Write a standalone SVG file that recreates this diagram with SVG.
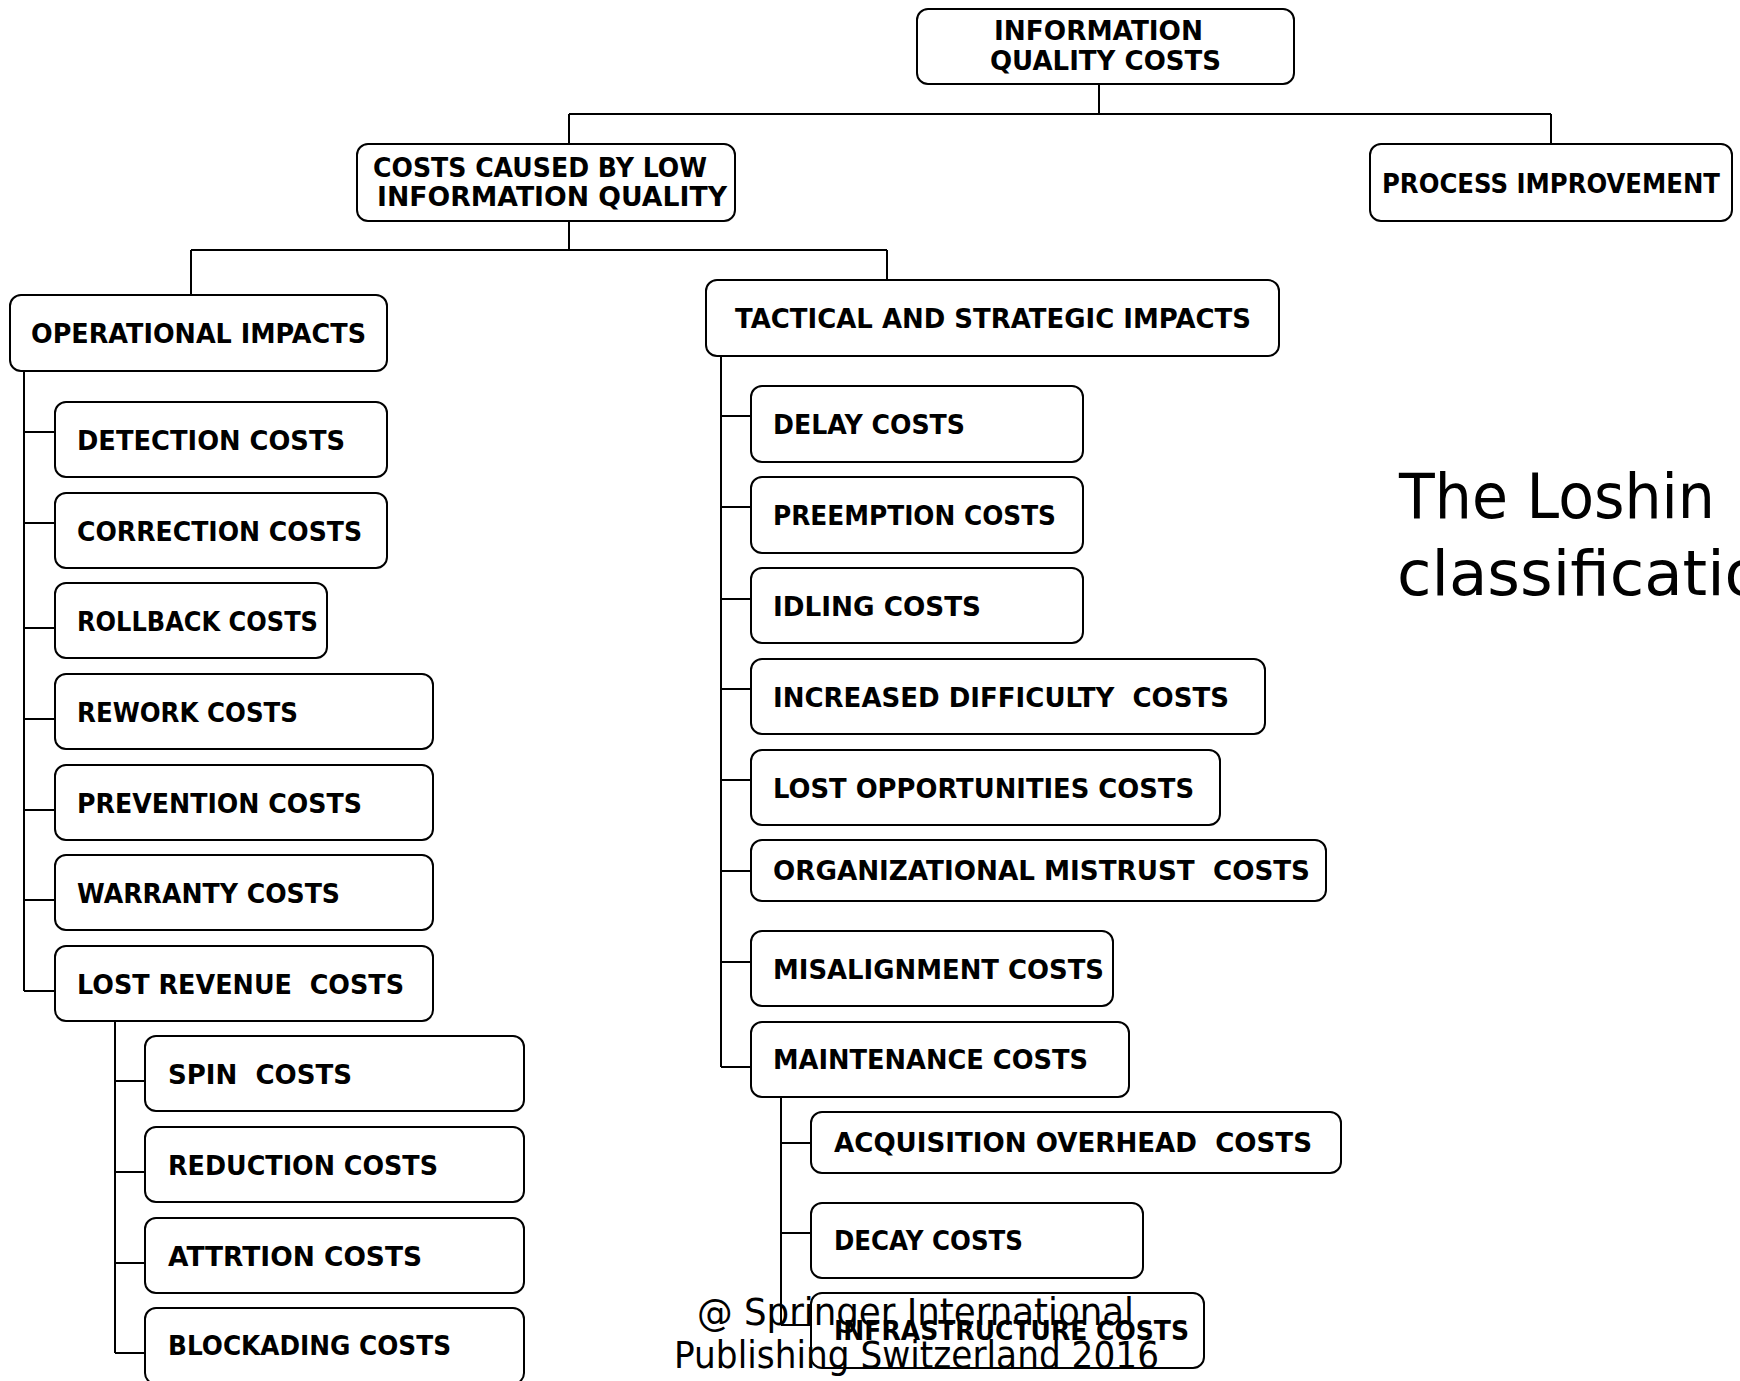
<svg xmlns="http://www.w3.org/2000/svg" width="1740" height="1381" viewBox="0 0 1740 1381">
  <style>
    .box { fill: #ffffff; stroke: #000000; stroke-width: 2; }
    .lbl { font-family: "DejaVu Sans", "Liberation Sans", sans-serif; font-weight: bold; font-size: 26px; fill: #000000; white-space: pre; }
    .wire { fill: none; stroke: #000000; stroke-width: 2; }
    .note { font-family: "DejaVu Sans", "Liberation Sans", sans-serif; font-weight: normal; fill: #000000; }
  </style>
  <rect x="0" y="0" width="1740" height="1381" fill="#ffffff"/>

  <!-- tree connectors -->
  <g id="connectors" class="wire">
    <path d="M1099 84 V114 M569 114 H1551 M569 114 V144 M1551 114 V144"/>
    <path d="M569 221 V250 M191 250 H887 M191 250 V295 M887 250 V280"/>
    <!-- operational impacts -->
    <path d="M24 371 V991 M24 432 H55 M24 523 H55 M24 628 H55 M24 719 H55 M24 810 H55 M24 900 H55 M24 991 H55"/>
    <!-- lost revenue -->
    <path d="M115 1021 V1353 M115 1081 H145 M115 1172 H145 M115 1263 H145 M115 1353 H145"/>
    <!-- tactical and strategic impacts -->
    <path d="M721 356 V1067 M721 416 H751 M721 507 H751 M721 599 H751 M721 689 H751 M721 780 H751 M721 871 H751 M721 962 H751 M721 1067 H751"/>
    <!-- maintenance -->
    <path d="M781 1097 V1325 M781 1143 H811 M781 1233 H811 M781 1325 H811"/>
  </g>

  <g id="n-root">
    <rect class="box" x="917" y="9" width="377" height="75" rx="11"/>
    <text class="lbl" x="994" y="40" textLength="209" lengthAdjust="spacingAndGlyphs">INFORMATION</text>
    <text class="lbl" x="990" y="70" textLength="231" lengthAdjust="spacingAndGlyphs">QUALITY COSTS</text>
  </g>
  <g id="n-process">
    <rect class="box" x="1370" y="144" width="362" height="77" rx="11"/>
    <text class="lbl" x="1382" y="193" textLength="338" lengthAdjust="spacingAndGlyphs">PROCESS IMPROVEMENT</text>
  </g>
  <g id="n-low-quality">
    <rect class="box" x="357" y="144" width="378" height="77" rx="11"/>
    <text class="lbl" x="373" y="177" textLength="334" lengthAdjust="spacingAndGlyphs">COSTS CAUSED BY LOW</text>
    <text class="lbl" x="377" y="206" textLength="350" lengthAdjust="spacingAndGlyphs">INFORMATION QUALITY</text>
  </g>
  <g id="n-operational">
    <rect class="box" x="10" y="295" width="377" height="76" rx="11"/>
    <text class="lbl" x="31" y="343" textLength="335" lengthAdjust="spacingAndGlyphs">OPERATIONAL IMPACTS</text>
  </g>
  <g id="n-tactical">
    <rect class="box" x="706" y="280" width="573" height="76" rx="11"/>
    <text class="lbl" x="735" y="328" textLength="516" lengthAdjust="spacingAndGlyphs">TACTICAL AND STRATEGIC IMPACTS</text>
  </g>

  <!-- operational branch -->
  <g id="n-detection">
    <rect class="box" x="55" y="402" width="332" height="75" rx="11"/>
    <text class="lbl" x="77" y="450" textLength="268" lengthAdjust="spacingAndGlyphs">DETECTION COSTS</text>
  </g>
  <g id="n-correction">
    <rect class="box" x="55" y="493" width="332" height="75" rx="11"/>
    <text class="lbl" x="77" y="541" textLength="285" lengthAdjust="spacingAndGlyphs">CORRECTION COSTS</text>
  </g>
  <g id="n-rollback">
    <rect class="box" x="55" y="583" width="272" height="75" rx="11"/>
    <text class="lbl" x="77" y="631" textLength="241" lengthAdjust="spacingAndGlyphs">ROLLBACK COSTS</text>
  </g>
  <g id="n-rework">
    <rect class="box" x="55" y="674" width="378" height="75" rx="11"/>
    <text class="lbl" x="77" y="722" textLength="221" lengthAdjust="spacingAndGlyphs">REWORK COSTS</text>
  </g>
  <g id="n-prevention">
    <rect class="box" x="55" y="765" width="378" height="75" rx="11"/>
    <text class="lbl" x="77" y="813" textLength="285" lengthAdjust="spacingAndGlyphs">PREVENTION COSTS</text>
  </g>
  <g id="n-warranty">
    <rect class="box" x="55" y="855" width="378" height="75" rx="11"/>
    <text class="lbl" x="77" y="903" textLength="263" lengthAdjust="spacingAndGlyphs">WARRANTY COSTS</text>
  </g>
  <g id="n-lost-revenue">
    <rect class="box" x="55" y="946" width="378" height="75" rx="11"/>
    <text class="lbl" x="77" y="994" textLength="327" lengthAdjust="spacingAndGlyphs">LOST REVENUE  COSTS</text>
  </g>
  <g id="n-spin">
    <rect class="box" x="145" y="1036" width="379" height="75" rx="11"/>
    <text class="lbl" x="168" y="1084" textLength="184" lengthAdjust="spacingAndGlyphs">SPIN  COSTS</text>
  </g>
  <g id="n-reduction">
    <rect class="box" x="145" y="1127" width="379" height="75" rx="11"/>
    <text class="lbl" x="168" y="1175" textLength="270" lengthAdjust="spacingAndGlyphs">REDUCTION COSTS</text>
  </g>
  <g id="n-attrition">
    <rect class="box" x="145" y="1218" width="379" height="75" rx="11"/>
    <text class="lbl" x="168" y="1266" textLength="254" lengthAdjust="spacingAndGlyphs">ATTRTION COSTS</text>
  </g>
  <g id="n-blockading">
    <rect class="box" x="145" y="1308" width="379" height="76" rx="11"/>
    <text class="lbl" x="168" y="1355" textLength="283" lengthAdjust="spacingAndGlyphs">BLOCKADING COSTS</text>
  </g>

  <!-- tactical and strategic branch -->
  <g id="n-delay">
    <rect class="box" x="751" y="386" width="332" height="76" rx="11"/>
    <text class="lbl" x="773" y="434" textLength="192" lengthAdjust="spacingAndGlyphs">DELAY COSTS</text>
  </g>
  <g id="n-preemption">
    <rect class="box" x="751" y="477" width="332" height="76" rx="11"/>
    <text class="lbl" x="773" y="525" textLength="283" lengthAdjust="spacingAndGlyphs">PREEMPTION COSTS</text>
  </g>
  <g id="n-idling">
    <rect class="box" x="751" y="568" width="332" height="75" rx="11"/>
    <text class="lbl" x="773" y="616" textLength="208" lengthAdjust="spacingAndGlyphs">IDLING COSTS</text>
  </g>
  <g id="n-difficulty">
    <rect class="box" x="751" y="659" width="514" height="75" rx="11"/>
    <text class="lbl" x="773" y="707" textLength="456" lengthAdjust="spacingAndGlyphs">INCREASED DIFFICULTY  COSTS</text>
  </g>
  <g id="n-opportunities">
    <rect class="box" x="751" y="750" width="469" height="75" rx="11"/>
    <text class="lbl" x="773" y="798" textLength="421" lengthAdjust="spacingAndGlyphs">LOST OPPORTUNITIES COSTS</text>
  </g>
  <g id="n-mistrust">
    <rect class="box" x="751" y="840" width="575" height="61" rx="11"/>
    <text class="lbl" x="773" y="880" textLength="537" lengthAdjust="spacingAndGlyphs">ORGANIZATIONAL MISTRUST  COSTS</text>
  </g>
  <g id="n-misalignment">
    <rect class="box" x="751" y="931" width="362" height="75" rx="11"/>
    <text class="lbl" x="773" y="979" textLength="331" lengthAdjust="spacingAndGlyphs">MISALIGNMENT COSTS</text>
  </g>
  <g id="n-maintenance">
    <rect class="box" x="751" y="1022" width="378" height="75" rx="11"/>
    <text class="lbl" x="773" y="1069" textLength="315" lengthAdjust="spacingAndGlyphs">MAINTENANCE COSTS</text>
  </g>
  <g id="n-acquisition">
    <rect class="box" x="811" y="1112" width="530" height="61" rx="11"/>
    <text class="lbl" x="834" y="1152" textLength="478" lengthAdjust="spacingAndGlyphs">ACQUISITION OVERHEAD  COSTS</text>
  </g>
  <g id="n-decay">
    <rect class="box" x="811" y="1203" width="332" height="75" rx="11"/>
    <text class="lbl" x="834" y="1250" textLength="189" lengthAdjust="spacingAndGlyphs">DECAY COSTS</text>
  </g>
  <g id="n-infrastructure">
    <rect class="box" x="811" y="1293" width="393" height="75" rx="11"/>
    <text class="lbl" x="834" y="1340" textLength="355" lengthAdjust="spacingAndGlyphs">INFRASTRUCTURE COSTS</text>
  </g>

  <!-- slide title and copyright line -->
  <text class="note" x="1399" y="518" font-size="62" textLength="316" lengthAdjust="spacingAndGlyphs">The Loshin</text>
  <text class="note" x="1397" y="595" font-size="62" textLength="366" lengthAdjust="spacingAndGlyphs">classificatio</text>
  <text class="note" x="697" y="1325" font-size="37" textLength="437" lengthAdjust="spacingAndGlyphs">@ Springer International</text>
  <text class="note" x="674" y="1368" font-size="37" textLength="485" lengthAdjust="spacingAndGlyphs">Publishing Switzerland 2016</text>
</svg>
